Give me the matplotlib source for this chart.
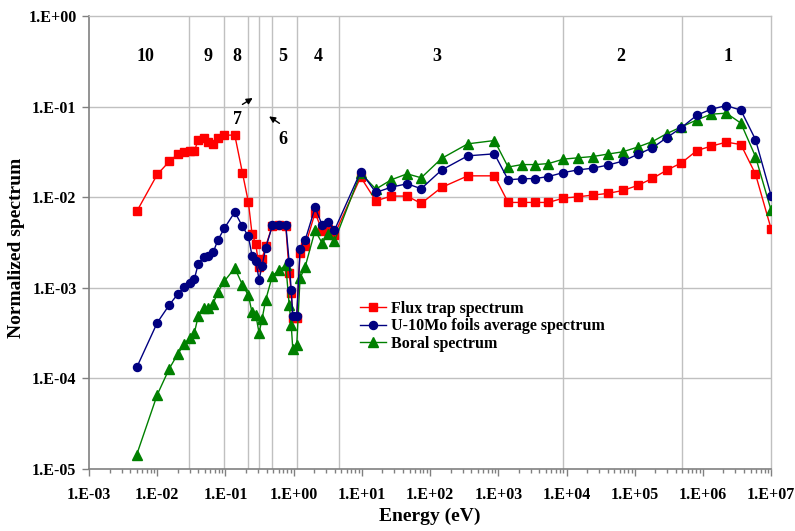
import numpy as np
import matplotlib
matplotlib.use("Agg")
import matplotlib.pyplot as plt
from matplotlib.ticker import FuncFormatter, LogLocator, NullFormatter

plt.rcParams['font.family'] = ['Liberation Serif', 'DejaVu Serif']
plt.rcParams['font.weight'] = 'bold'

# energy grid (eV), shared by the three spectra
energy = [0.005, 0.01, 0.015, 0.02, 0.025, 0.03, 0.035, 0.04, 0.048, 0.056,
          0.066, 0.077, 0.096, 0.137, 0.177, 0.217, 0.245, 0.278, 0.311, 0.344,
          0.39, 0.488, 0.61, 0.766, 0.86, 0.92, 0.97, 1.11, 1.24, 1.47,
          2.06, 2.61, 3.23, 3.95,
          9.6, 16, 27, 46, 74, 147, 357, 877, 1393, 2213, 3500,
          5430, 9020, 1.47e4, 2.43e4, 4.03e4, 6.7e4, 1.1e5, 1.82e5, 2.96e5,
          4.84e5, 8.14e5, 1.32e6, 2.21e6, 3.6e6, 5.89e6, 1.0e7]

flux_trap = [6.95e-3, 0.0178, 0.0248, 0.0299, 0.0319, 0.0325, 0.0322, 0.0433, 0.0455, 0.0405,
             0.0391, 0.0455, 0.0484, 0.0484, 0.0187, 8.79e-3, 3.95e-3, 3.04e-3, 1.69e-3, 2.09e-3,
             2.9e-3, 4.85e-3, 4.9e-3, 4.8e-3, 1.47e-3, 8.8e-4, 4.68e-4, 4.68e-4, 2.44e-3, 2.86e-3,
             6.73e-3, 4.27e-3, 4.43e-3, 3.85e-3,
             0.01667, 9.12e-3, 0.01028, 0.01028, 8.53e-3, 0.0128, 0.0172, 0.0172, 8.75e-3, 8.75e-3, 8.75e-3,
             8.75e-3, 9.77e-3, 0.0101, 0.01055, 0.0110, 0.01186, 0.01346, 0.0161, 0.0199,
             0.0239, 0.0327, 0.0366, 0.0405, 0.0381, 0.018, 4.45e-3]

u10mo = [1.32e-4, 4.12e-4, 6.46e-4, 8.53e-4, 1.02e-3, 1.13e-3, 1.25e-3, 1.85e-3, 2.19e-3, 2.26e-3,
         2.46e-3, 3.33e-3, 4.52e-3, 6.85e-3, 4.78e-3, 3.69e-3, 2.26e-3, 1.99e-3, 1.23e-3, 1.74e-3,
         2.77e-3, 4.88e-3, 4.96e-3, 4.96e-3, 1.91e-3, 9.5e-4, 4.92e-4, 4.92e-4, 2.70e-3, 3.33e-3,
         7.7e-3, 4.96e-3, 5.36e-3, 4.29e-3,
         0.0192, 0.01127, 0.0129, 0.01406, 0.0124, 0.0199, 0.0286, 0.0301, 0.01556, 0.01596, 0.01607,
         0.0169, 0.0187, 0.0200, 0.0209, 0.0226, 0.025, 0.0296, 0.0351, 0.0455,
         0.0586, 0.0803, 0.0935, 0.1026, 0.0912, 0.0433, 0.01036]

boral = [1.44e-5, 6.6e-5, 1.28e-4, 1.86e-4, 2.40e-4, 2.79e-4, 3.17e-4, 4.92e-4, 5.98e-4, 5.98e-4,
         6.68e-4, 8.9e-4, 1.18e-3, 1.65e-3, 1.08e-3, 8.24e-4, 5.36e-4, 5.05e-4, 3.17e-4, 4.53e-4,
         7.4e-4, 1.36e-3, 1.57e-3, 1.77e-3, 6.5e-4, 3.9e-4, 2.13e-4, 2.36e-4, 1.28e-3, 1.69e-3,
         4.29e-3, 3.12e-3, 3.92e-3, 3.25e-3,
         0.01845, 0.01228, 0.01556, 0.01811, 0.01637, 0.02673, 0.0388, 0.0422, 0.0215, 0.0229, 0.0229,
         0.0235, 0.0263, 0.0272, 0.0281, 0.0299, 0.0317, 0.0357, 0.0411, 0.0504,
         0.0597, 0.0713, 0.0824, 0.0846, 0.0656, 0.0281, 7.13e-3]

# energy group boundaries and group numbers
group_bounds = [0.0296, 0.0964, 0.217, 0.314, 0.487, 1.11, 4.68, 9020, 4.89e5]
group_labels = ['10', '9', '8', '5', '4', '3', '2', '1']
group_label_x = [0.00662, 0.0556, 0.148, 0.70, 2.28, 127, 6.3e4, 2.34e6]

fig = plt.figure(figsize=(7.95, 5.31), dpi=100)
ax = fig.add_axes([0.112, 0.1168, 0.858, 0.8531])

grid_c = '#c0c0c0'
for b in group_bounds:
    ax.axvline(b, color=grid_c, lw=1.0, zorder=1)
for yv in [1e-4, 1e-3, 1e-2, 1e-1]:
    ax.axhline(yv, color=grid_c, lw=1.0, zorder=1)

ax.plot(energy, flux_trap, color='#ff0000', marker='s', ms=6.3, lw=1.0,
        label='Flux trap spectrum', zorder=3)
ax.plot(energy, u10mo, color='#000080', marker='o', ms=5.8, lw=1.0,
        label='U-10Mo foils average spectrum', zorder=4)
ax.plot(energy, boral, color='#008000', marker='^', ms=6.5, lw=1.0,
        label='Boral spectrum', zorder=3)

ax.set_xscale('log')
ax.set_yscale('log')
ax.set_xlim(1e-3, 1e7)
ax.set_ylim(1e-5, 1)

fmt = FuncFormatter(lambda v, p: "1.E%+03d" % int(round(np.log10(v))))
ax.xaxis.set_major_locator(LogLocator(base=10, numticks=20))
ax.xaxis.set_minor_locator(LogLocator(base=10, subs=np.arange(2, 10), numticks=200))
ax.xaxis.set_minor_formatter(NullFormatter())
ax.xaxis.set_major_formatter(fmt)
ax.yaxis.set_major_locator(LogLocator(base=10, numticks=20))
ax.yaxis.set_minor_locator(LogLocator(base=10, subs=[], numticks=20))
ax.yaxis.set_major_formatter(fmt)
ax.tick_params(axis='both', which='major', direction='out', length=5, width=1,
               color='#808080', labelsize=11.5)
ax.tick_params(axis='y', which='major', pad=4)
ax.tick_params(axis='x', which='minor', direction='out', length=3, width=1, color='#808080')
ax.tick_params(axis='x', which='major', pad=8)
for lbl in ax.get_xticklabels() + ax.get_yticklabels():
    lbl.set_fontweight('bold')

for s in ['left', 'bottom']:
    ax.spines[s].set_color('#808080')
    ax.spines[s].set_linewidth(1.2)
for s in ['top', 'right']:
    ax.spines[s].set_color(grid_c)
    ax.spines[s].set_linewidth(1.0)

ax.set_xlabel('Energy (eV)', fontsize=14, fontweight='bold')
ax.set_ylabel('Normalized spectrum', fontsize=14, fontweight='bold')
ax.xaxis.set_label_coords(0.5, -0.086)
ax.yaxis.set_label_coords(-0.094, 0.489)

for lab, xv in zip(group_labels, group_label_x):
    ax.text(xv, 0.353, lab, ha='center', va='center', fontsize=13, fontweight='bold')

ax.text(0.150, 0.0726, '7', ha='center', va='center', fontsize=13, fontweight='bold')
ax.annotate('', xy=(0.2716, 0.1289), xytext=(0.1637, 0.1018),
            arrowprops=dict(arrowstyle='-|>', color='black', lw=1.0, mutation_scale=9))
ax.text(0.706, 0.0437, '6', ha='center', va='center', fontsize=13, fontweight='bold')
ax.annotate('', xy=(0.4032, 0.081), xytext=(0.669, 0.0628),
            arrowprops=dict(arrowstyle='-|>', color='black', lw=1.0, mutation_scale=9))

leg = ax.legend(loc='upper left', bbox_to_anchor=(0.388, 0.386), frameon=False,
                fontsize=11.5, handlelength=1.6, handletextpad=0.35, labelspacing=0.1,
                borderaxespad=0)
for t in leg.get_texts():
    t.set_fontweight('bold')

fig.savefig('out.png', dpi=100)
